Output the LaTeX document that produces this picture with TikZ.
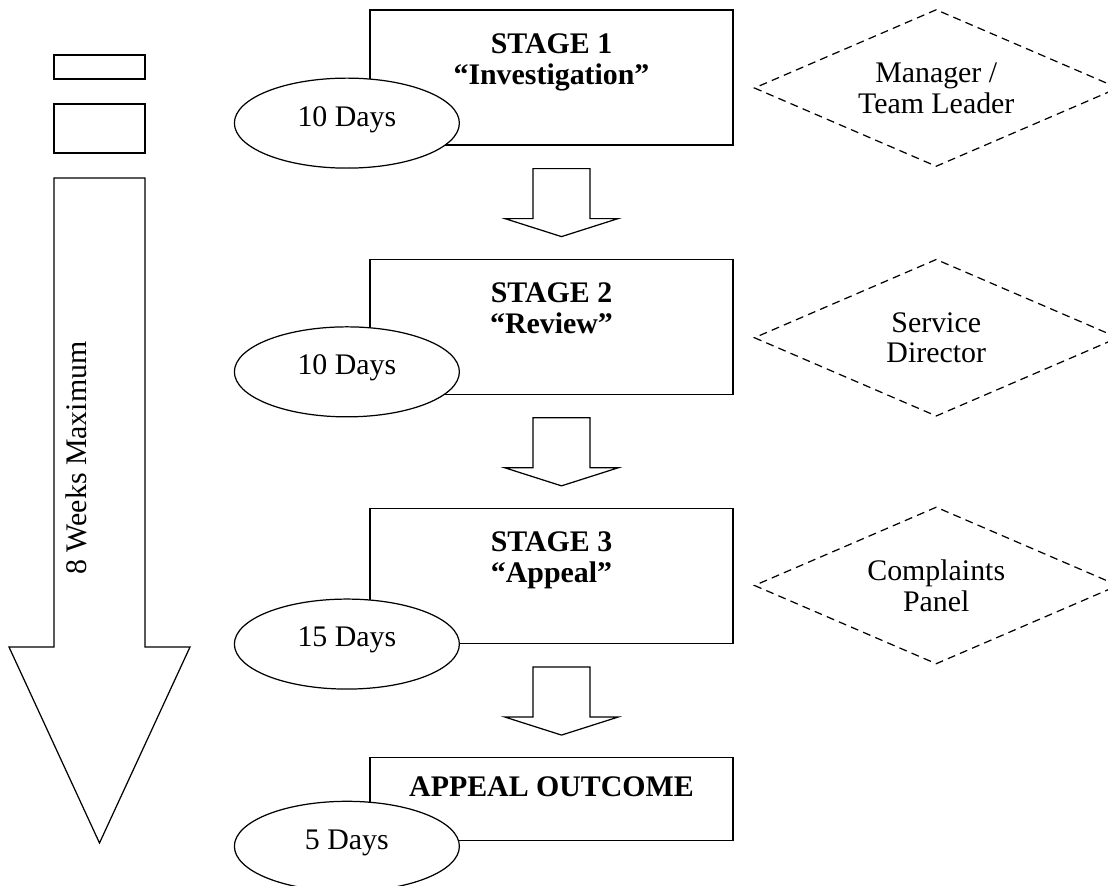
\documentclass[tikz,border=0pt]{standalone}
\usepackage{fontspec}
\setmainfont{Liberation Serif}
\usetikzlibrary{positioning,shapes.geometric}

\begin{document}
\begin{tikzpicture}[
    node distance=2.26cm and 0.4cm,
    every node/.style={font=\fontsize{17}{17.5}\selectfont},
    stagebox/.style={draw=black, line width=0.7pt, rectangle, minimum width=7.26cm, minimum height=2.70cm, inner sep=0pt},
    stagetext/.style={align=center, inner sep=0pt, font=\fontsize{17}{17.5}\selectfont\bfseries},
    days/.style={draw=black, line width=0.7pt, ellipse, fill=white, minimum width=4.50cm, minimum height=1.80cm, inner sep=0pt, text height=11.5pt, text depth=8.2pt},
    owner/.style={draw=black, line width=0.7pt, diamond, dash pattern=on 4.5pt off 3pt, aspect=2.3, minimum width=7.28cm, minimum height=3.14cm, inner sep=0pt, align=center},
    keybox/.style={draw=black, line width=0.7pt, rectangle, minimum width=1.82cm, inner sep=0pt},
    flow/.style={draw=black, line width=0.7pt, fill=white},
    stagearrow/.pic={\path[flow] (-0.57,-0.46) -- ++(1.14,0) -- ++(0,-1.0) -- ++(0.56,0) -- (0,-1.82) -- (-1.13,-1.46) -- (-0.57,-1.46) -- cycle;}
]
  \useasboundingbox (0,0) rectangle (22.16,-17.72);

  % Stages
  \node (s1) [stagebox] at (11.03,-1.55) {};
  \node (s2) [stagebox, below=of s1] {};
  \node (s3) [stagebox, below=of s2] {};
  \node (out) [stagebox, minimum height=1.66cm, below=of s3] {};

  \node (s1text) [stagetext, anchor=north] at ([yshift=-0.475cm]s1.north) {STAGE 1\\“Investigation”};
  \node (s2text) [stagetext, anchor=north] at ([yshift=-0.475cm]s2.north) {STAGE 2\\“Review”};
  \node (s3text) [stagetext, anchor=north] at ([yshift=-0.475cm]s3.north) {STAGE 3\\“Appeal”};
  \node (outtext) [stagetext, anchor=base] at ([yshift=-0.78cm]out.north) {APPEAL OUTCOME};

  % Time limits
  \node (d1) [days] at ([shift={(-0.45,0.45)}]s1.south west) {10 Days};
  \node (d2) [days] at ([shift={(-0.45,0.46)}]s2.south west) {10 Days};
  \node (d3) [days] at ([shift={(-0.45,0)}]s3.south west) {15 Days};
  \node (d4) [days] at ([shift={(-0.45,-0.10)}]out.south west) {5 Days};

  % Who deals with it
  \node (o1) [owner, right=of s1, yshift=-0.21cm] {Manager /\\Team Leader};
  \node (o2) [owner, right=of s2, yshift=-0.22cm] {Service\\Director};
  \node (o3) [owner, right=of s3, yshift=-0.19cm] {Complaints\\Panel};

  % Arrows between stages
  \pic at ([xshift=0.2cm]s1.south) {stagearrow};
  \pic at ([xshift=0.2cm]s2.south) {stagearrow};
  \pic at ([xshift=0.2cm]s3.south) {stagearrow};

  % Overall time scale
  \node (key1) [keybox, minimum height=0.48cm] at (1.99,-1.34) {};
  \node (key2) [keybox, minimum height=0.98cm] at (1.99,-2.57) {};
  \draw [flow] (1.08,-3.56) -- (2.90,-3.56) -- (2.90,-12.94) -- (3.80,-12.94) -- (1.99,-16.86) -- (0.18,-12.94) -- (1.08,-12.94) -- cycle;
  \node (weeks) [rotate=90] at (1.52,-9.16) {8 Weeks Maximum};

\end{tikzpicture}
\end{document}
